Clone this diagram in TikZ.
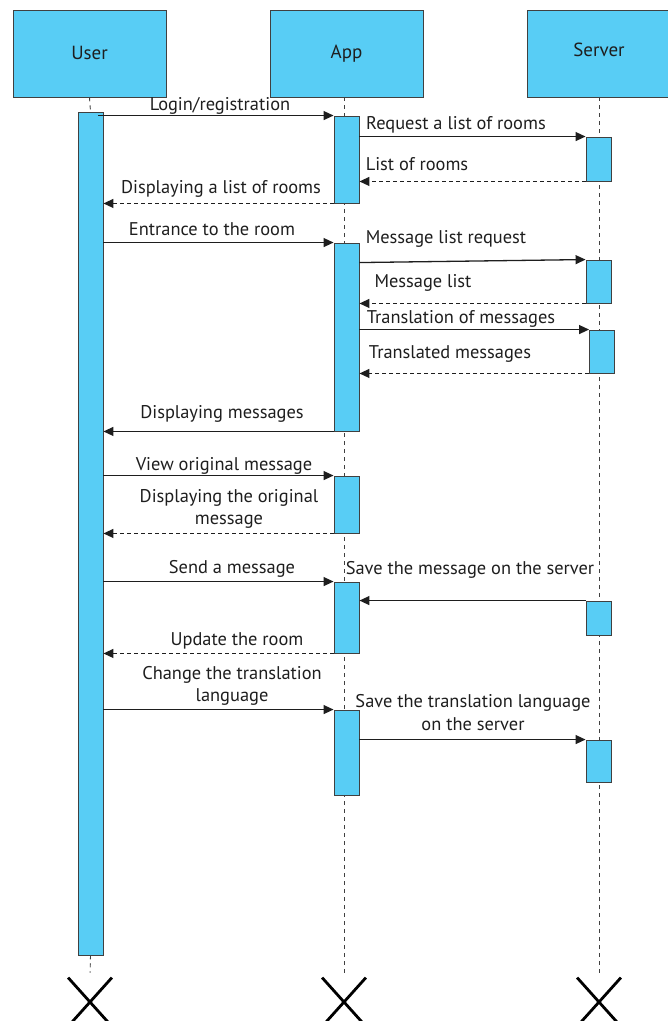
\documentclass[tikz,border=0pt]{standalone}
\usepackage{fontspec}
\setmainfont{PT Sans}
\usetikzlibrary{arrows.meta,shapes.misc,backgrounds}
\definecolor{lb}{RGB}{88,205,245}
\definecolor{ink}{RGB}{30,30,30}
\begin{document}
\begin{tikzpicture}[x=1pt,y=-1pt,
  txt/.style={font=\fontsize{18.4}{22.5}\selectfont, text=ink, inner sep=0pt, align=center},
  actor/.style={draw=ink!85, line width=0.9pt, fill=lb, inner sep=0pt, minimum height=87pt,
    font=\fontsize{19}{22}\selectfont, text=ink},
  bar/.style={draw=ink!85, line width=0.9pt, fill=lb, inner sep=0pt, minimum width=25pt},
  life/.style={draw=ink!85, line width=0.9pt, dash pattern=on 4pt off 4pt},
  msg/.style={draw=ink, line width=1.3pt, -{Triangle[length=10pt,width=9pt]}},
  ret/.style={msg, dash pattern=on 4pt off 3pt},
  endx/.style={cross out, draw=black, line width=2.8pt, inner sep=0pt, minimum width=41pt, minimum height=46pt},
]
\useasboundingbox (0,0) rectangle (668,1021);

% actors
\node[actor, minimum width=153pt] (user) at (89.5,53.5) {\raisebox{2pt}{User}};
\node[actor, minimum width=153pt] (app) at (346.5,53.5) {\raisebox{2pt}{App}};
\node[actor, minimum width=144pt] (server) at (599,53.5) {\raisebox{7pt}{Server}};

% activation bars
\node[bar, minimum height=843pt] (ub) at (90.5,533.5) {};
\node[bar, minimum height=87pt] (ab1) at (346.5,159.5) {};
\node[bar, minimum height=188pt] (ab2) at (346.5,337) {};
\node[bar, minimum height=57pt] (ab3) at (346.5,504.5) {};
\node[bar, minimum height=71pt] (ab4) at (346.5,617.5) {};
\node[bar, minimum height=85pt] (ab5) at (346.5,752.5) {};
\node[bar, minimum height=44pt] (sb1) at (598.5,159) {};
\node[bar, minimum height=43pt] (sb2) at (598.5,281.5) {};
\node[bar, minimum height=43pt] (sb3) at (602,351.5) {};
\node[bar, minimum height=34pt] (sb4) at (598.5,618) {};
\node[bar, minimum height=42pt] (sb5) at (598.5,761) {};

% end marks
\node[endx] (xu) at (90,1002) {};
\node[endx] (xa) at (344,1002) {};
\node[endx] (xs) at (599,1002) {};

% lifelines
\begin{pgfonlayer}{background}
\draw[life] (user.south) -- (ub.north);
\draw[life, shorten >=5pt] (ub.south) -- (xu.north);
\draw[life, shorten >=5pt] ([xshift=-2.5pt]app.south) -- (xa.north);
\draw[life, shorten >=5pt] (server.south) -- (xs.north);
\end{pgfonlayer}

% messages
\draw[msg] ([xshift=-5pt]ub.east |- ab1.north) -- (ab1.north west);
\draw[msg] (ab1.east |- sb1.north) -- (sb1.north west);
\draw[ret] (sb1.south west) -- (ab1.east |- sb1.south);
\draw[ret] (ab1.south west) -- (ub.east |- ab1.south);
\draw[msg] (ub.east |- ab2.north) -- (ab2.north west);
\draw[msg] ([yshift=-3pt]ab2.east |- sb2.north) -- (sb2.north west);
\draw[ret] (sb2.south west) -- (ab2.east |- sb2.south);
\draw[msg] (ab2.east |- sb3.north) -- (sb3.north west);
\draw[ret] (sb3.south west) -- (ab2.east |- sb3.south);
\draw[msg] (ab2.south west) -- (ub.east |- ab2.south);
\draw[msg] (ub.east |- ab3.north) -- (ab3.north west);
\draw[ret] (ab3.south west) -- (ub.east |- ab3.south);
\draw[msg] (ub.east |- ab4.north) -- (ab4.north west);
\draw[msg] (sb4.north west) -- (ab4.east |- sb4.north);
\draw[ret] (ab4.south west) -- (ub.east |- ab4.south);
\draw[msg] (ub.east |- ab5.north) -- (ab5.north west);
\draw[msg] (ab5.east |- sb5.north) -- (sb5.north west);

% labels
\node[txt] (l1) at (220,105.5) {Login/registration};
\node[txt] (l2) at (456,124.5) {Request a list of rooms};
\node[txt] (l3) at (417,164.5) {List of rooms};
\node[txt] (l4) at (221,188.5) {Displaying a list of rooms};
\node[txt] (l5) at (212,229.5) {Entrance to the room};
\node[txt] (l6) at (446,238.5) {Message list request};
\node[txt] (l7) at (423,282.5) {Message list};
\node[txt] (l8) at (461,318.5) {Translation of messages};
\node[txt] (l9) at (450,354.5) {Translated messages};
\node[txt] (l10) at (222,413.5) {Displaying messages};
\node[txt] (l11) at (224,465.5) {View original message};
\node[txt] (l12) at (229,509) {Displaying the original\\message};
\node[txt] (l13) at (232,568.5) {Send a message};
\node[txt] (l14) at (470,569.5) {Save the message on the server};
\node[txt] (l15) at (237,640.5) {Update the room};
\node[txt] (l16) at (232,686) {Change the translation\\language};
\node[txt] (l17) at (473,712.5) {Save the translation language\\on the server};
\end{tikzpicture}
\end{document}
